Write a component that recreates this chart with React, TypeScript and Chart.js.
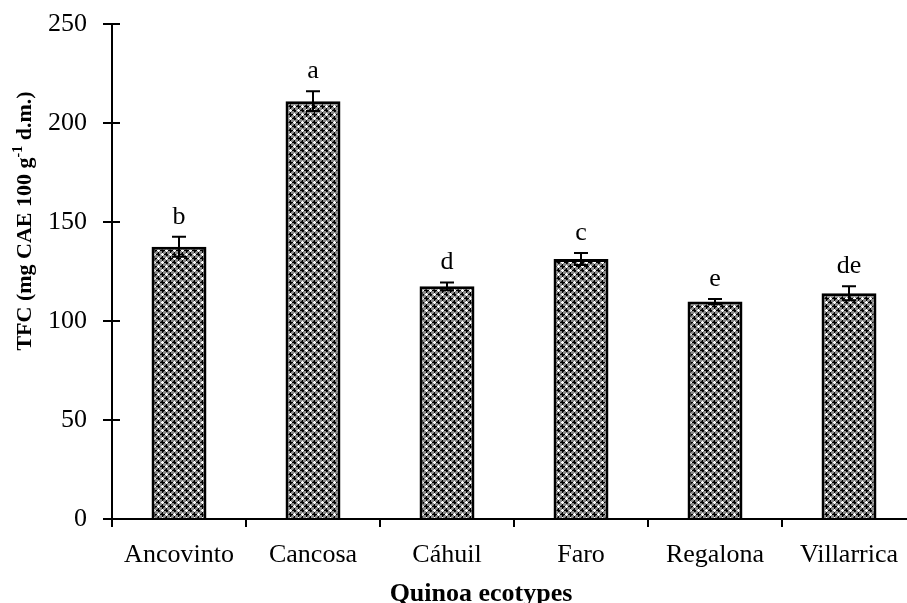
import React, { useEffect, useRef } from "react";
import { Chart, registerables } from "chart.js";
Chart.register(...registerables);

const categories = ["Ancovinto", "Cancosa", "Cáhuil", "Faro", "Regalona", "Villarrica"];
const tfcValues = [137.5, 211, 117.5, 131.3, 109.8, 114];
const tfcErrors = [5, 5, 2, 3, 1.3, 3.5];
const letters = ["b", "a", "d", "c", "e", "de"];
const yMin = 0;
const yMax = 250;
const yStep = 50;

const SERIF = "'Liberation Serif', 'Times New Roman', serif";

function makePattern(ctx: CanvasRenderingContext2D): CanvasPattern | string {
  const c = document.createElement("canvas");
  c.width = 8;
  c.height = 8;
  const p = c.getContext("2d");
  if (!p) return "#888";
  p.fillStyle = "#8c8c8c";
  p.fillRect(0, 0, 8, 8);
  const cross = (cx: number, cy: number, col: string, arm: number) => {
    p.fillStyle = col;
    p.fillRect(cx - arm, cy, 2 * arm + 1, 1);
    p.fillRect(cx, cy - arm, 1, 2 * arm + 1);
  };
  cross(2, 2, "#000", 2);
  cross(6, 6, "#000", 2);
  p.fillStyle = "#222";
  p.fillRect(1, 1, 1, 1);
  p.fillRect(3, 3, 1, 1);
  p.fillRect(5, 5, 1, 1);
  p.fillRect(7, 7, 1, 1);
  cross(6, 2, "#ffffff", 1);
  cross(2, 6, "#ffffff", 1);
  return ctx.createPattern(c, "repeat") || "#888";
}

const overlayPlugin = {
  id: "overlay",
  afterDatasetsDraw(chart: any) {
    const ctx: CanvasRenderingContext2D = chart.ctx;
    const meta = chart.getDatasetMeta(0);
    const ys = chart.scales.y;
    ctx.save();
    ctx.strokeStyle = "#000";
    ctx.lineWidth = 2;
    meta.data.forEach((el: any, i: number) => {
      const x = el.x;
      const top = ys.getPixelForValue(tfcValues[i] + tfcErrors[i]);
      const bot = ys.getPixelForValue(tfcValues[i] - tfcErrors[i]);
      ctx.beginPath();
      ctx.moveTo(x, top);
      ctx.lineTo(x, bot);
      ctx.moveTo(x - 7, top);
      ctx.lineTo(x + 7, top);
      ctx.moveTo(x - 7, bot);
      ctx.lineTo(x + 7, bot);
      ctx.stroke();
      ctx.fillStyle = "#000";
      ctx.font = `26px ${SERIF}`;
      ctx.textAlign = "center";
      ctx.textBaseline = "alphabetic";
      ctx.fillText(letters[i], x, top - 13);
    });
    // inner halves of y ticks
    const left = chart.chartArea.left;
    ys.ticks.forEach((t: any) => {
      const y = ys.getPixelForValue(t.value);
      ctx.beginPath();
      ctx.moveTo(left, y);
      ctx.lineTo(left + 8, y);
      ctx.stroke();
    });
    ctx.restore();
  },
  afterDraw(chart: any) {
    const ctx: CanvasRenderingContext2D = chart.ctx;
    ctx.save();
    ctx.fillStyle = "#000";
    // x title
    ctx.font = `bold 26px ${SERIF}`;
    ctx.textAlign = "center";
    ctx.textBaseline = "alphabetic";
    ctx.fillText("Quinoa ecotypes", 481, 601);
    // y title, rotated with superscript
    const parts: [string, string, number][] = [
      ["TFC (mg CAE 100 g", `bold 22px ${SERIF}`, 0],
      ["-1", `bold 14px ${SERIF}`, -9],
      [" d.m.)", `bold 22px ${SERIF}`, 0],
    ];
    let total = 0;
    parts.forEach(([s, f]) => {
      ctx.font = f;
      total += ctx.measureText(s).width;
    });
    ctx.translate(31, 221);
    ctx.rotate(-Math.PI / 2);
    ctx.textAlign = "left";
    let x = -total / 2;
    parts.forEach(([s, f, dy]) => {
      ctx.font = f;
      ctx.fillText(s, x, dy);
      x += ctx.measureText(s).width;
    });
    ctx.restore();
  },
};

export default function App() {
  const ref = useRef<HTMLCanvasElement | null>(null);
  useEffect(() => {
    const canvas = ref.current;
    if (!canvas) return;
    const ctx = canvas.getContext("2d");
    if (!ctx) return;
    const pattern = makePattern(ctx);
    const chart = new Chart(canvas, {
      type: "bar",
      data: {
        labels: categories,
        datasets: [
          {
            data: tfcValues,
            backgroundColor: pattern as any,
            borderColor: "#000",
            borderWidth: 3,
            barPercentage: 0.41,
            categoryPercentage: 1,
          },
        ],
      },
      options: {
        responsive: false,
        animation: false,
        devicePixelRatio: 1,
        layout: { padding: { left: 0, right: 14, top: 24, bottom: 0 } },
        plugins: { legend: { display: false }, tooltip: { enabled: false }, title: { display: false } },
        scales: {
          x: {
            type: "category",
            offset: true,
            grid: { display: true, drawOnChartArea: false, drawTicks: true, tickLength: 8, color: "#000", lineWidth: 2, offset: true },
            border: { display: true, color: "#000", width: 2 },
            ticks: { color: "#000", font: { family: SERIF, size: 26 }, padding: 13, maxRotation: 0, autoSkip: false },
            afterFit: (s: any) => { s.height = 84; s.paddingLeft = 0; s.paddingRight = 0; },
          },
          y: {
            min: yMin,
            max: yMax,
            grid: { display: true, drawOnChartArea: false, drawTicks: true, tickLength: 9, color: "#000", lineWidth: 2 },
            border: { display: true, color: "#000", width: 2 },
            ticks: { stepSize: yStep, color: "#000", font: { family: SERIF, size: 26 }, padding: 16 },
            afterFit: (s: any) => { s.width = 112; s.paddingTop = 0; s.paddingBottom = 0; },
          },
        },
      },
      plugins: [overlayPlugin],
    });
    return () => chart.destroy();
  }, []);
  return (
    <div style={{ position: "fixed", left: 0, top: 0, width: 907, height: 603, overflow: "hidden", background: "#fff" }}>
      <canvas ref={ref} width={930} height={603} style={{ display: "block" }} />
    </div>
  );
}
